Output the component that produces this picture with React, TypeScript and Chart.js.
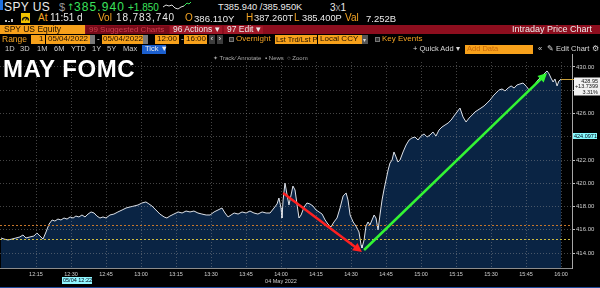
import React, { useEffect, useRef } from "react";
import { Chart, registerables } from "chart.js";

Chart.register(...registerables);

const FONT = "'Liberation Sans', Arial, Helvetica, sans-serif";

// ---- data ----
// minutes after 12:00 for each sampled print
const tradeMinutes = [
  0, 1.3, 3.0, 4.7, 6.4, 8.1, 9.4, 10.7, 12.4, 14.1, 15.4, 16.7, 18.0, 19.3, 20.6, 21.9, 23.1, 24.4, 25.7, 27.0,
  28.3, 29.6, 30.9, 32.1, 33.4, 34.7, 36.0, 37.3, 38.6, 39.9, 41.1, 42.4, 43.7, 45.0, 46.7, 48.4, 50.1, 51.9, 53.6, 55.3,
  57.0, 58.7, 60.4, 62.1, 63.4, 64.7, 66.4, 68.1, 69.9, 71.1, 72.4, 74.1, 75.9, 77.6, 79.3, 81.0, 82.7, 84.4, 86.1, 87.9,
  89.6, 91.3, 93.0, 94.7, 96.0, 97.3, 98.6, 99.9, 101.6, 103.3, 105.0, 106.7, 108.4, 110.1, 111.9, 113.6, 115.3, 117.0, 118.3, 119.1,
  120.0, 120.4, 120.9, 121.7, 122.6, 123.4, 124.3, 125.1, 126.0, 126.9, 127.7, 128.6, 129.9, 131.1, 132.4, 133.7, 135.0, 136.3, 137.6, 138.9,
  140.1, 141.4, 142.7, 144.0, 145.3, 146.6, 147.9, 148.7, 149.6, 150.9, 152.1, 153.4, 154.3, 154.7, 155.6, 156.4, 157.3, 158.1, 159.0, 159.9,
  160.7, 161.6, 162.4, 163.3, 164.1, 165.0, 165.9, 166.7, 167.6, 168.4, 169.3, 170.1, 171.0, 172.3, 173.6, 174.9, 176.1, 177.4, 178.7, 180.0,
  181.3, 182.6, 183.9, 185.1, 186.4, 187.7, 189.0, 190.3, 191.6, 192.9, 194.1, 195.4, 196.7, 198.0, 199.3, 200.6, 201.9, 203.1, 204.4, 205.7,
  207.0, 208.3, 209.6, 210.9, 212.1, 213.4, 214.7, 216.0, 217.3, 218.6, 219.9, 221.1, 222.4, 223.7, 225.0, 226.3, 227.6, 228.9, 230.1, 231.4,
  232.7, 234.0, 234.9, 235.7, 236.6, 237.4, 238.3, 239.1, 240.0,
];
const tradePrices = [
  415.29, 415.2, 415.12, 415.2, 415.29, 415.38, 415.55, 415.29, 415.38, 415.46, 415.72, 415.46, 415.2, 415.81, 416.49, 416.84, 416.75, 416.92, 416.84, 417.01,
  416.92, 417.1, 417.01, 417.18, 417.1, 417.27, 417.1, 417.35, 417.53, 417.44, 417.18, 417.01, 417.1, 417.01, 417.27, 417.35, 417.53, 417.7, 417.87, 417.96,
  418.04, 418.13, 418.3, 418.39, 418.22, 418.04, 417.7, 417.35, 417.1, 417.01, 417.18, 417.35, 417.53, 417.44, 417.61, 417.53, 417.61, 417.44, 417.35, 417.27,
  417.27, 417.53, 417.7, 417.87, 417.44, 417.1, 417.27, 417.44, 417.35, 417.53, 417.44, 417.61, 417.44, 417.35, 417.53, 417.44, 417.44, 417.87, 418.22, 418.73,
  417.87, 417.01, 418.56, 420.02, 418.99, 418.13, 418.99, 419.76, 419.42, 418.13, 417.01, 417.27, 417.96, 418.3, 418.22, 418.04, 417.7, 417.53, 417.35, 416.84,
  416.49, 416.24, 416.67, 417.01, 417.87, 418.9, 419.16, 418.56, 417.27, 416.67, 416.32, 415.81, 414.69, 414.43, 415.12, 416.32, 416.67, 416.41, 416.84, 417.27,
  417.01, 415.98, 417.27, 418.56, 419.42, 420.28, 421.14, 421.74, 422.0, 422.69, 422.26, 421.83, 422.0, 422.69, 423.29, 423.72, 423.89, 423.98, 423.72, 424.06,
  424.24, 423.98, 424.15, 424.41, 424.06, 424.58, 424.84, 425.01, 425.18, 425.44, 425.78, 426.13, 426.47, 425.7, 425.27, 425.61, 425.87, 426.13, 426.3, 426.47,
  426.65, 426.9, 427.16, 427.51, 427.76, 428.02, 428.11, 427.94, 428.19, 428.37, 428.19, 428.45, 428.54, 428.62, 428.37, 428.02, 428.28, 428.54, 428.88, 429.14,
  429.4, 429.66, 429.4, 429.05, 428.71, 428.97, 428.37, 428.8, 428.95,
];
const xTickMinutes = [15, 30, 45, 60, 75, 90, 105, 120, 135, 150, 165, 180, 195, 210, 225, 240];
const yTickValues = [414, 416, 418, 420, 422, 424, 426, 428, 430];
const hiddenYLabels = [424, 428];
const prevClosePrice = 415.21;
const openRefPrice = 416.38;
const vwapPrice = 424.0971;
const lastLabelLines = ["428.95", "+13.7399", "3.31%"];
const redArrowMinutes = [120.9, 154.7];
const redArrowPrices = [419.16, 414.09];
const greenArrowMinutes = [155.6, 234.0];
const greenArrowPrices = [414.26, 429.48];
const dateLabel = "04 May 2022";
const dateLabelMinute = 120;
const X_MIN = -0.43;
const X_MAX = 244.7;
const Y_MIN = 412.71;
const Y_MAX = 430.43;

const GREEN = "#3be35c";
const ORANGE = "#f5a524";
const OBOX = "#f7a11b";
const OTXT = "#1f1000";

function drawArrow(ctx: CanvasRenderingContext2D, x1: number, y1: number, x2: number, y2: number, color: string) {
  const ang = Math.atan2(y2 - y1, x2 - x1);
  const L = 9;
  const H = 4.5;
  const c = Math.cos(ang);
  const s = Math.sin(ang);
  const bx = x2 - L * c;
  const by = y2 - L * s;
  ctx.strokeStyle = color;
  ctx.lineWidth = 2.5;
  ctx.beginPath();
  ctx.moveTo(x1, y1);
  ctx.lineTo(bx + c, by + s);
  ctx.stroke();
  ctx.fillStyle = color;
  ctx.beginPath();
  ctx.moveTo(x2, y2);
  ctx.lineTo(bx - H * s, by + H * c);
  ctx.lineTo(bx + H * s, by - H * c);
  ctx.closePath();
  ctx.fill();
}

const overlayPlugin = {
  id: "bbgOverlay",
  afterDraw(chart: any) {
    const { ctx, chartArea: a } = chart;
    const xs = chart.scales.x;
    const ys = chart.scales.y;
    const px = (m: number) => xs.getPixelForValue(m);
    const py = (p: number) => ys.getPixelForValue(p);

    ctx.save();
    ctx.beginPath();
    ctx.rect(a.left, a.top, a.right - a.left, a.bottom - a.top);
    ctx.clip();
    const hline = (p: number, color: string) => {
      const y = Math.round(py(p)) + 0.5;
      ctx.strokeStyle = color;
      ctx.lineWidth = 1;
      ctx.setLineDash([2, 2]);
      ctx.beginPath();
      ctx.moveTo(a.left, y);
      ctx.lineTo(a.right, y);
      ctx.stroke();
    };
    hline(openRefPrice, "#c7762a");
    hline(prevClosePrice, "#cdbb3f");
    ctx.setLineDash([]);
    drawArrow(ctx, px(redArrowMinutes[0]), py(redArrowPrices[0]), px(redArrowMinutes[1]), py(redArrowPrices[1]), "#ff2020");
    drawArrow(ctx, px(greenArrowMinutes[0]), py(greenArrowPrices[0]), px(greenArrowMinutes[1]), py(greenArrowPrices[1]), "#33f533");
    ctx.restore();

    ctx.save();
    ctx.strokeStyle = "#a6a6a6";
    ctx.lineWidth = 1;
    ctx.beginPath();
    ctx.moveTo(a.right + 0.5, 0);
    ctx.lineTo(a.right + 0.5, a.top);
    ctx.stroke();

    const n = tradeMinutes.length - 1;
    const lx = px(tradeMinutes[n]);
    const ly = Math.round(py(tradePrices[n])) + 0.5;
    ctx.strokeStyle = "#c9a03a";
    ctx.beginPath();
    ctx.moveTo(lx, ly);
    ctx.lineTo(a.right + 3, ly);
    ctx.stroke();
    const bx = a.right + 2;
    const bw = 26;
    const bt = Math.round(ly) - 2.5;
    const bh = 18;
    ctx.fillStyle = "#f2f2f2";
    ctx.fillRect(bx, bt, bw, bh);
    ctx.fillStyle = "#111";
    ctx.font = `5.5px ${FONT}`;
    ctx.textAlign = "right";
    ctx.textBaseline = "middle";
    lastLabelLines.forEach((s, i) => ctx.fillText(s, bx + bw - 2, bt + 3.5 + i * 5.5));

    const vy = py(vwapPrice);
    ctx.fillStyle = "#86fbff";
    ctx.fillRect(a.right + 1, Math.round(vy) - 3, 24, 6);
    ctx.fillStyle = "#001";
    ctx.textAlign = "left";
    ctx.fillText(vwapPrice.toFixed(4), a.right + 2, Math.round(vy) + 0.2);

    ctx.fillStyle = "#cfcfcf";
    ctx.textAlign = "center";
    ctx.fillText(dateLabel, px(dateLabelMinute), a.bottom + 13);
    ctx.restore();
  },
};

function fmtTime(v: number) {
  const m = Math.round(v);
  const h = 12 + Math.floor(m / 60);
  const mm = m % 60;
  return `${h}:${String(mm).padStart(2, "0")}`;
}

function PriceChart() {
  const ref = useRef<HTMLCanvasElement>(null);
  useEffect(() => {
    const canvas = ref.current as HTMLCanvasElement;
    const chart = new Chart(canvas, {
      type: "line",
      data: {
        datasets: [
          {
            data: tradeMinutes.map((m, i) => ({ x: m, y: tradePrices[i] })),
            borderColor: "#dde1e8",
            borderWidth: 1,
            backgroundColor: "#0a2444",
            fill: "start",
            pointRadius: 0,
            tension: 0,
          },
        ],
      },
      options: {
        responsive: false,
        animation: false,
        events: [],
        layout: { padding: { top: 8, left: 0, right: 0, bottom: 0 } },
        plugins: { legend: { display: false }, tooltip: { enabled: false } },
        scales: {
          x: {
            type: "linear",
            min: X_MIN,
            max: X_MAX,
            afterBuildTicks: (s: any) => {
              s.ticks = xTickMinutes.map((v) => ({ value: v }));
            },
            afterFit: (s: any) => {
              s.height = 20;
            },
            grid: { color: "rgba(150,150,150,0.45)", lineWidth: 1, drawTicks: false, z: 1 },
            border: { display: true, color: "#8c8c8c", dash: [1, 2], z: 1 },
            ticks: {
              color: "#cfcfcf",
              font: { size: 5.5, family: FONT },
              padding: 3,
              autoSkip: false,
              maxRotation: 0,
              callback: (v: any) => fmtTime(Number(v)),
            },
          },
          y: {
            position: "right",
            min: Y_MIN,
            max: Y_MAX,
            afterBuildTicks: (s: any) => {
              s.ticks = yTickValues.map((v) => ({ value: v }));
            },
            afterFit: (s: any) => {
              s.width = 28;
            },
            grid: { color: "rgba(150,150,150,0.45)", lineWidth: 1, drawTicks: true, tickLength: 3, tickColor: "#bdbdbd", z: 1 },
            border: { display: true, color: "#a6a6a6", dash: [1, 2], z: 1 },
            ticks: {
              color: "#cfcfcf",
              font: { size: 6, family: FONT },
              padding: 1,
              callback: (v: any) => (hiddenYLabels.includes(Number(v)) ? "" : Number(v).toFixed(2)),
            },
          },
        },
      } as any,
      plugins: [overlayPlugin as any],
    });
    return () => chart.destroy();
  }, []);
  return (
    <canvas
      ref={ref}
      width={600}
      height={234}
      style={{ position: "absolute", left: 0, top: 54, width: 600, height: 234 }}
    />
  );
}

type TP = { x: number; b: number; s: number; c?: string; ls?: number; bold?: boolean; fam?: string; children: React.ReactNode };
function T({ x, b, s, c = "#ebebeb", ls = 0, bold = false, fam, children }: TP) {
  return (
    <span
      style={{
        position: "absolute",
        left: x,
        top: b - 0.8465 * s,
        fontSize: s,
        lineHeight: `${s}px`,
        color: c,
        letterSpacing: ls,
        fontWeight: bold ? 700 : 400,
        whiteSpace: "pre",
        fontFamily: fam || FONT,
      }}
    >
      {children}
    </span>
  );
}
function R({ x, y, w, h, c, st }: { x: number; y: number; w: number; h: number; c: string; st?: React.CSSProperties }) {
  return <div style={{ position: "absolute", left: x, top: y, width: w, height: h, background: c, ...st }} />;
}

export default function App() {
  useEffect(() => {
    document.body.style.margin = "0";
    document.body.style.background = "#000";
  }, []);
  const r4 = 42.2;
  const r5 = 51.5;
  return (
    <div
      style={{
        position: "fixed",
        left: 0,
        top: 0,
        width: 600,
        height: 288,
        background: "#000",
        overflow: "hidden",
        fontFamily: FONT,
      }}
    >
      <PriceChart />

      {/* row 1 */}
      <R x={0} y={0} w={2.5} h={10} c="#1e6fe0" />
      <T x={4} b={11} s={12} ls={0.4}>SPY US</T>
      <T x={59} b={11} s={11} c="#9a9a9a">$</T>
      <T x={67} b={11} s={9} c={GREEN} fam="DejaVu Sans">↑</T>
      <T x={74} b={11} s={12} c={GREEN} ls={1.1}>385.940</T>
      <T x={128} b={11} s={10} c={GREEN}>+1.850</T>
      <svg style={{ position: "absolute", left: 163, top: 1 }} width={30} height={11}>
        <polyline points="0,6 3,4 6,5 9,4 12,7 15,8 18,6 21,5" fill="none" stroke="#dcdcdc" strokeWidth={1} />
        <polyline points="21,5 24,2 26,3 28,1" fill="none" stroke={GREEN} strokeWidth={1} />
      </svg>
      <T x={218} b={11} s={9.3}>T385.940 /385.950K</T>
      <T x={330} b={11} s={10}>
        3<span style={{ color: "#9a9a9a" }}>x</span>1
      </T>

      {/* row 2 */}
      <R x={5} y={20} w={1.5} h={2} c="#bdbdbd" />
      <R x={8} y={21} w={1.5} h={1} c="#bdbdbd" />
      <R x={11} y={19} w={1.5} h={3} c="#bdbdbd" />
      <R x={21} y={13} w={9} h={10} c="#f2c200" />
      <svg style={{ position: "absolute", left: 21, top: 13 }} width={9} height={10}>
        <path d="M1.5,7.5 A3,3 0 0 1 7.5,7.5" fill="none" stroke="#111" strokeWidth={1.4} />
        <line x1={4.5} y1={7.5} x2={6} y2={4.5} stroke="#111" strokeWidth={1} />
      </svg>
      <T x={38} b={21.7} s={10} c={ORANGE}>At</T>
      <T x={50} b={21.7} s={10}>11:51 d</T>
      <T x={98} b={21.7} s={10} c={ORANGE}>Vol</T>
      <T x={116} b={21.7} s={10} ls={0.9}>18,783,740</T>
      <T x={185} b={21.7} s={10} c={ORANGE}>O</T>
      <T x={194} b={21.7} s={9.6}>386.110Y</T>
      <T x={246} b={21.7} s={10} c={ORANGE}>H</T>
      <T x={254} b={21.7} s={9.3}>387.260T</T>
      <T x={294} b={21.7} s={10} c={ORANGE}>L</T>
      <T x={302} b={21.7} s={9.3}>385.400P</T>
      <T x={345} b={21.7} s={10} c={ORANGE}>Val</T>
      <T x={366} b={21.7} s={9.5}>7.252B</T>

      {/* row 3 */}
      <R x={0} y={25} w={600} h={9} c="#8d0e1e" />
      <R x={0} y={25} w={85} h={9} c={OBOX} />
      <T x={4} b={32.3} s={8.5} c={OTXT}>SPY US Equity</T>
      <R x={86} y={25.5} w={83} h={8} c="#760b18" />
      <T x={89} b={32.3} s={8} c="#cf3d4c">99 Suggested Charts</T>
      <R x={170} y={25.5} w={52} h={8} c="#a01727" />
      <T x={173} b={32.3} s={8.5}>96 Actions ▾</T>
      <R x={224} y={25.5} w={39} h={8} c="#a01727" />
      <T x={227} b={32.3} s={8.5}>97 Edit ▾</T>
      <T x={512} b={32.3} s={9}>Intraday Price Chart</T>

      {/* row 4 */}
      <T x={2} b={r4} s={8.5} c={ORANGE}>Range</T>
      <R x={31} y={35} w={14} h={9} c={OBOX} />
      <T x={39} b={r4} s={8} c={OTXT}>1</T>
      <R x={46} y={35} w={44} h={9} c={OBOX} />
      <T x={48} b={r4} s={8} c={OTXT}>05/04/2022</T>
      <R x={90} y={35} w={5} h={9} c="#7a7a7a" />
      <T x={97} b={r4} s={8}>-</T>
      <R x={102} y={35} w={41} h={9} c={OBOX} />
      <T x={103} b={r4} s={8} c={OTXT}>05/04/2022</T>
      <R x={143} y={35} w={5} h={9} c="#7a7a7a" />
      <R x={155} y={35} w={24} h={9} c={OBOX} />
      <T x={157} b={r4} s={8} c={OTXT}>12:00</T>
      <T x={181} b={r4} s={8}>-</T>
      <R x={184} y={35} w={23} h={9} c={OBOX} />
      <T x={186} b={r4} s={8} c={OTXT}>16:00</T>
      <R x={209} y={35} w={6} h={9} c="#3c3c3c" />
      <T x={210.5} b={r4} s={8}>‹</T>
      <R x={217} y={35} w={6} h={9} c="#3c3c3c" />
      <T x={218.5} b={r4} s={8}>›</T>
      <R x={229} y={37} w={5} h={5} c="#333" st={{ border: "1px solid #777", boxSizing: "border-box" }} />
      <T x={236} b={r4} s={8} c={ORANGE}>Overnight</T>
      <R x={275} y={35} w={42} h={9} c={OBOX} />
      <T x={276} b={r4} s={7.4} c={OTXT}>Lst Trd/Lst P</T>
      <R x={318} y={35} w={44} h={9} c={OBOX} />
      <T x={320} b={r4} s={8} c={OTXT}>Local CCY</T>
      <R x={362} y={35} w={6} h={9} c="#555" />
      <T x={362.5} b={r4} s={6} c="#ddd">▾</T>
      <R x={375} y={37} w={5} h={5} c="#333" st={{ border: "1px solid #777", boxSizing: "border-box" }} />
      <T x={382} b={r4} s={8} c={ORANGE}>Key Events</T>

      {/* row 5 */}
      <T x={5} b={r5} s={7.5} c="#d0d0d0">1D</T>
      <T x={20} b={r5} s={7.5} c="#d0d0d0">3D</T>
      <T x={37} b={r5} s={7.5} c="#d0d0d0">1M</T>
      <T x={54} b={r5} s={7.5} c="#d0d0d0">6M</T>
      <T x={71} b={r5} s={7.5} c="#d0d0d0">YTD</T>
      <T x={92} b={r5} s={7.5} c="#d0d0d0">1Y</T>
      <T x={107} b={r5} s={7.5} c="#d0d0d0">5Y</T>
      <T x={123} b={r5} s={7.5} c="#d0d0d0">Max</T>
      <R x={142} y={45} w={24} h={9} c="#1b5fcf" />
      <T x={145} b={r5} s={7.5}>Tick ▼</T>
      <T x={413} b={r5} s={7.5} c="#d8d8d8">+ Quick Add ▾</T>
      <R x={465} y={45} w={68} h={9} c={OBOX} />
      <T x={467} b={r5} s={7.5} c="#c8680a">Add Data</T>
      <T x={538} b={r5} s={7.5} c="#d8d8d8">«</T>
      <T x={547} b={r5} s={7.5} c="#d8d8d8">✎ Edit Chart</T>
      <T x={592} b={r5} s={7.5} c="#d8d8d8">⚙</T>

      {/* row 6 toolbar */}
      <T x={213} b={60.5} s={6} c="#a8a8a8">✦ Track</T>
      <T x={235} b={60.5} s={6} c="#a8a8a8">⁄ Annotate</T>
      <T x={265} b={60.5} s={6} c="#a8a8a8">▪ News</T>
      <T x={287} b={60.5} s={6} c="#a8a8a8">○ Zoom</T>

      {/* title */}
      <T x={3} b={77.3} s={24} bold ls={0.5} c="#ffffff">MAY FOMC</T>

      {/* cursor time label */}
      <R x={62} y={277} w={30} h={6.5} c="#8ff6ff" />
      <T x={63} b={282.3} s={5.5} c="#001">05/04 12:22</T>
      <R x={0} y={286.5} w={600} h={1.5} c="#1f4a9a" />
    </div>
  );
}
